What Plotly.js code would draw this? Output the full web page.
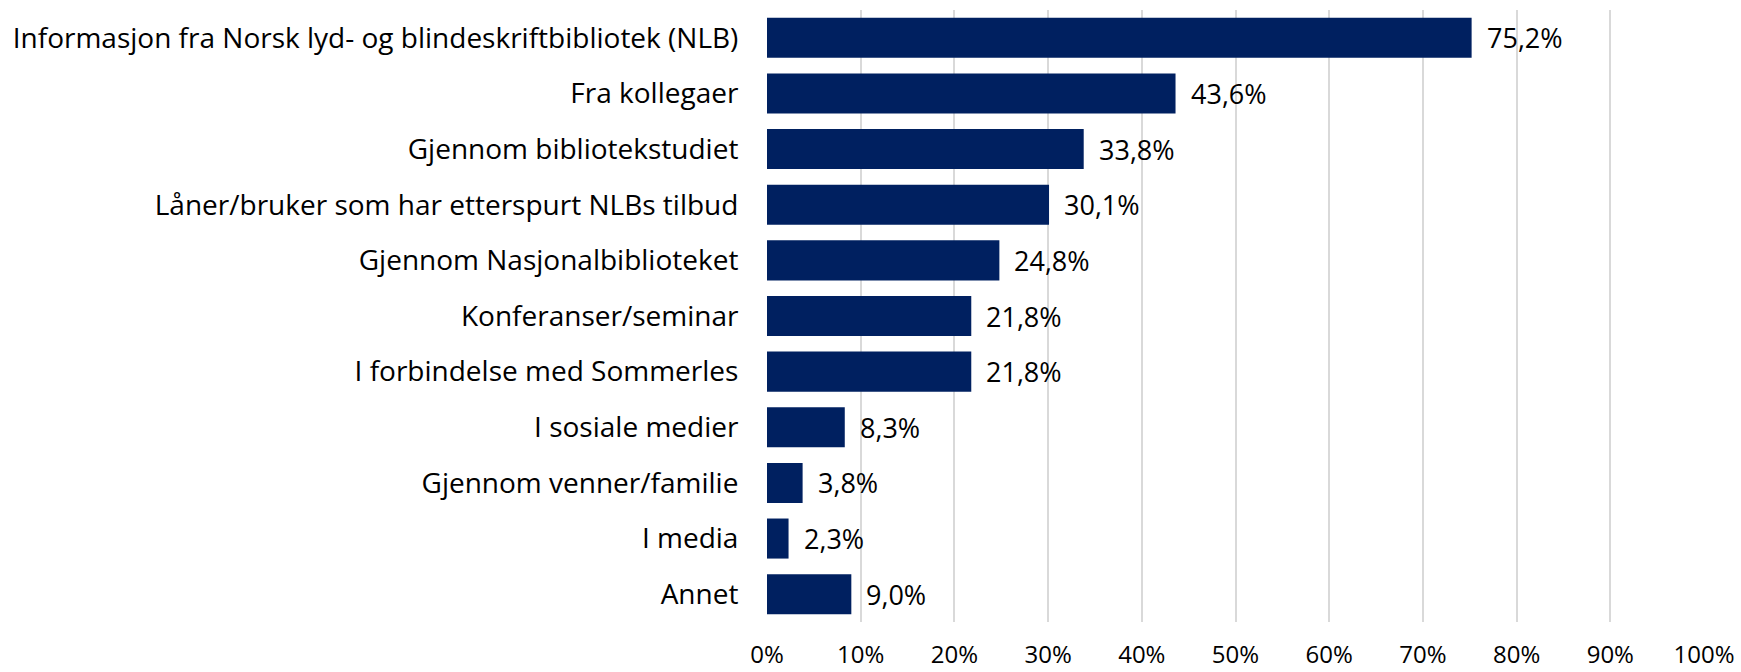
<!DOCTYPE html>
<html><head><meta charset="utf-8">
<script src="https://cdn.plot.ly/plotly-3.0.1.min.js"></script>
<style>html,body{margin:0;padding:0;background:#fff}#chart{width:1741px;height:672px}</style>
</head><body><div id="chart"></div>
<script>
const categories = [
  "Informasjon fra Norsk lyd- og blindeskriftbibliotek (NLB)",
  "Fra kollegaer",
  "Gjennom bibliotekstudiet",
  "Låner/bruker som har etterspurt NLBs tilbud",
  "Gjennom Nasjonalbiblioteket",
  "Konferanser/seminar",
  "I forbindelse med Sommerles",
  "I sosiale medier",
  "Gjennom venner/familie",
  "I media",
  "Annet"
];
const values = [75.2, 43.6, 33.8, 30.1, 24.8, 21.8, 21.8, 8.3, 3.8, 2.3, 9.0];
const tickVals = [0,10,20,30,40,50,60,70,80,90,100];
const tickText = ["0%","10%","20%","30%","40%","50%","60%","70%","80%","90%","100%"];

const FONT = "'Open Sans', sans-serif";
const labels = values.map(v => v.toFixed(1).replace('.', ',') + '%');

const annotations = values.map((v, i) => ({
  x: v, y: categories[i], xref: 'x', yref: 'y',
  text: labels[i], showarrow: false, xanchor: 'left', yanchor: 'middle',
  xshift: 13, font: {family: FONT, size: 27, color: '#000'}
}));

Plotly.newPlot('chart', [{
  type: 'bar', orientation: 'h',
  x: values, y: categories,
  marker: {color: '#002060'},
  hoverinfo: 'none'
}], {
  width: 1741, height: 672,
  margin: {l: 767, r: 37, t: 10, b: 50},
  paper_bgcolor: '#fff', plot_bgcolor: '#fff',
  bargap: 0.28,
  showlegend: false,
  font: {family: FONT, size: 26, color: '#000'},
  xaxis: {
    range: [0, 100], tickvals: tickVals, ticktext: tickText,
    showgrid: true, gridcolor: '#d9d9d9', gridwidth: 2,
    zeroline: false, showline: false,
    ticks: 'outside', ticklen: 11, tickcolor: 'rgba(0,0,0,0)',
    tickfont: {family: FONT, size: 24, color: '#000'},
    fixedrange: true
  },
  yaxis: {
    autorange: 'reversed', showgrid: false, zeroline: false, showline: false,
    ticks: 'outside', ticklen: 22, tickcolor: 'rgba(0,0,0,0)',
    tickfont: {family: FONT, size: 28, color: '#000'},
    fixedrange: true
  },
  annotations: annotations
}, {displayModeBar: false, staticPlot: true});
</script></body></html>
